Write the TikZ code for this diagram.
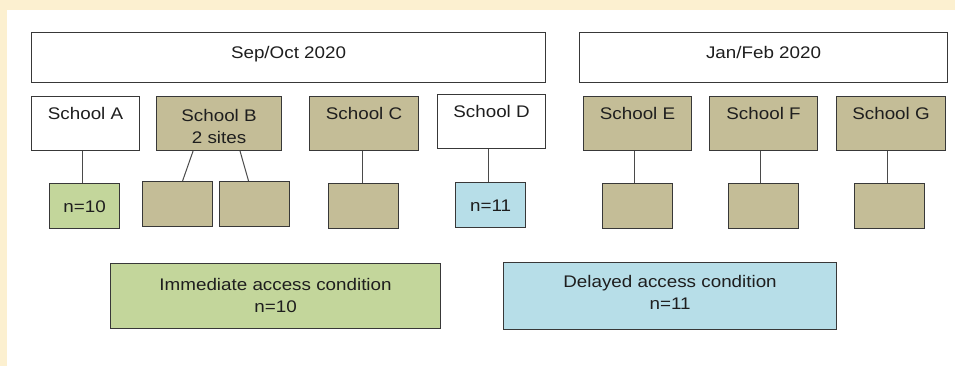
\documentclass[tikz,border=0pt]{standalone}
\usepackage{fontspec}
\setmainfont{Liberation Sans}[FakeStretch=1.12]
\usetikzlibrary{calc}
\definecolor{cream}{HTML}{FCF0D0}
\definecolor{tan}{HTML}{C4BD97}
\definecolor{lgreen}{HTML}{C3D69B}
\definecolor{lblue}{HTML}{B7DEE8}
\definecolor{edge}{HTML}{383838}
\definecolor{linec}{HTML}{4A4A4A}
\definecolor{ink}{HTML}{1E1E1E}
\begin{document}
\begin{tikzpicture}[x=1pt,y=-1pt,
  box/.style={draw=edge, line width=1.1pt, inner sep=0pt, anchor=north west},
  school/.style={box, minimum width=108pt, minimum height=54pt},
  site/.style={box, fill=tan, minimum width=70pt, minimum height=45pt},
  txt/.style={font=\fontsize{16.8}{22}\selectfont, text=ink, inner sep=0pt, align=center},
  oneline/.style={text height=12pt, text depth=0pt},
  link/.style={draw=linec, line width=1pt}]
\useasboundingbox (0,0) rectangle (955,366);
\fill[cream] (0,0) rectangle (955,366);
\fill[white] (7,10) rectangle (955,366);

% period boxes
\node[box, fill=white, minimum width=514pt, minimum height=50pt] (sep) at (31,32) {};
\node[box, fill=white, minimum width=368pt, minimum height=50pt] (jan) at (579,32) {};
\node[txt, oneline] (tsep) at ($(sep.center)+(0,-5)$) {Sep/Oct 2020};
\node[txt, oneline] (tjan) at ($(jan.center)+(0,-5)$) {Jan/Feb 2020};

% schools
\node[school, fill=white] (A) at (31,96) {};
\node[school, fill=tan, minimum width=125pt] (B) at (156,96) {};
\node[school, fill=tan, minimum width=109pt] (C) at (309,96) {};
\node[school, fill=white] (D) at (437,94) {};
\node[school, fill=tan] (E) at (583,96) {};
\node[school, fill=tan] (F) at (709,96) {};
\node[school, fill=tan, minimum width=109pt] (G) at (836,96) {};

\node[txt, oneline] (tA) at ($(A.north)+(0,18)$) {School A};
\node[txt] (tB) at ($(B.north)+(0,30)$) {School B\\2 sites};
\node[txt, oneline] (tC) at ($(C.north)+(0,18)$) {School C};
\node[txt, oneline] (tD) at ($(D.north)+(0,18)$) {School D};
\node[txt, oneline] (tE) at ($(E.north)+(0,18)$) {School E};
\node[txt, oneline] (tF) at ($(F.north)+(0,18)$) {School F};
\node[txt, oneline] (tG) at ($(G.north)+(0,18)$) {School G};

% sites
\node[site, fill=lgreen] (a1) at (49,183) {};
\node[site] (b1) at (142,181) {};
\node[site] (b2) at (219,181) {};
\node[site] (c1) at (328,183) {};
\node[site, fill=lblue] (d1) at (455,182) {};
\node[site] (e1) at (602,183) {};
\node[site] (f1) at (728,183) {};
\node[site] (g1) at (854,183) {};

\node[txt, oneline] (ta1) at (a1.center) {n=10};
\node[txt, oneline] (td1) at (d1.center) {n=11};

% connectors
\draw[link] ([xshift=-2pt]a1.north |- A.south) -- ([xshift=-2pt]a1.north);
\draw[link] ([xshift=-26pt]B.south) -- ([xshift=5pt]b1.north);
\draw[link] ([xshift=21pt]B.south) -- ([xshift=-6pt]b2.north);
\draw[link] ([xshift=-1pt]c1.north |- C.south) -- ([xshift=-1pt]c1.north);
\draw[link] ([xshift=-2pt]d1.north |- D.south) -- ([xshift=-2pt]d1.north);
\draw[link] ([xshift=-3pt]e1.north |- E.south) -- ([xshift=-3pt]e1.north);
\draw[link] ([xshift=-3pt]f1.north |- F.south) -- ([xshift=-3pt]f1.north);
\draw[link] ([xshift=-2pt]g1.north |- G.south) -- ([xshift=-2pt]g1.north);

% conditions
\node[box, fill=lgreen, minimum width=330pt, minimum height=65pt] (imm) at (110,263) {};
\node[box, fill=lblue, minimum width=333pt, minimum height=67pt] (del) at (503,262) {};
\node[txt] (timm) at ($(imm.center)+(0,-1)$) {Immediate access condition\\n=10};
\node[txt] (tdel) at ($(del.center)+(0,-4)$) {Delayed access condition\\n=11};
\end{tikzpicture}
\end{document}
